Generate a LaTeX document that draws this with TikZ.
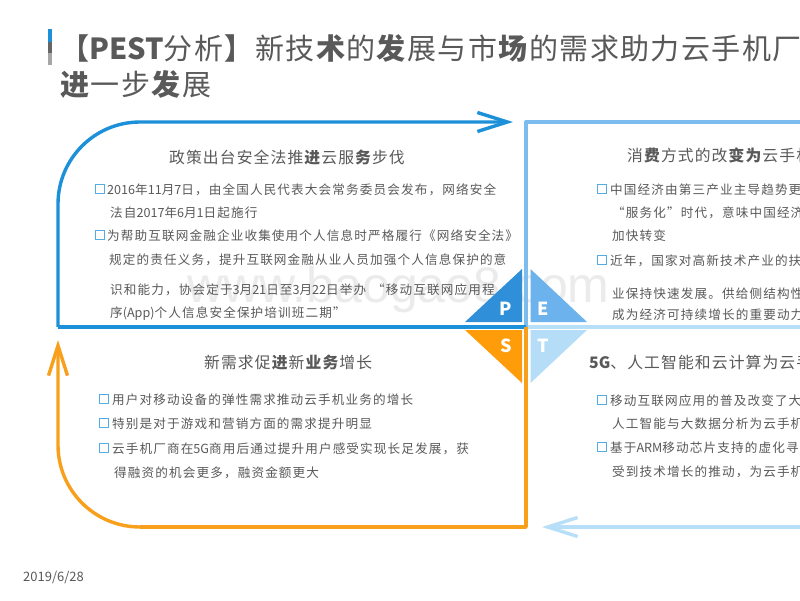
\documentclass[tikz,border=0pt]{standalone}
\usepackage{fontspec}
\setmainfont{Noto Sans CJK SC}[LetterSpace=5]
\newfontfamily\nl{Noto Sans CJK SC}
\newfontfamily\wmfont{Liberation Sans}
\usetikzlibrary{arrows.meta}
\definecolor{cP}{HTML}{1C90D8}
\definecolor{cE}{HTML}{7CBCEE}
\definecolor{cS}{HTML}{F8A01C}
\definecolor{cT}{HTML}{B8DFF8}
\definecolor{tP}{HTML}{2F8FD8}
\definecolor{tE}{HTML}{6CB2EC}
\definecolor{tS}{HTML}{FF9C0A}
\definecolor{tT}{HTML}{B5DDF7}
\definecolor{txt}{HTML}{595959}
\newcommand{\bd}[1]{\textbf{#1}}
\newcommand{\lt}[1]{{\nl #1}}
\newcommand{\fc}{\symbol{"FF0C}}
\tikzset{
  body/.style={anchor=base west,inner sep=0pt,text=txt,font=\fontsize{12.6}{14}\selectfont\addfontfeature{LetterSpace=9}},
  head/.style={anchor=base west,inner sep=0pt,text=txt,font=\fontsize{15.8}{18}\selectfont\addfontfeature{LetterSpace=7}},
  ttl/.style={anchor=base west,inner sep=0pt,text=txt,font=\fontsize{29}{32}\selectfont},
  bullet/.style={draw=cP!75,line width=1pt,fill=white,minimum size=9.5pt,inner sep=0pt},
  letter/.style={text=white,inner sep=0pt,font=\nl\fontsize{18}{18}\selectfont\bfseries},
  rule/.style={line width=3.4pt,line join=round},
  barb/.style={-{Straight Barb[length=30pt,width=19pt,line width=3.4pt]}},
}
\begin{document}
\begin{tikzpicture}[x=1pt,y=-1pt]
\useasboundingbox (0,0) rectangle (800,600);
\fill[white] (0,0) rectangle (800,600);
\clip (0,0) rectangle (800,600);
% watermark
\node[anchor=base west,inner sep=0pt,text=black!8,font=\wmfont\fontsize{50}{54}\selectfont] (wm) at (187,302) {www.baogao8.com};
% title bar
\fill[cP] (48,29) rectangle (51.5,42);
\fill[black!60] (48,42) rectangle (51.5,53);
\fill[black!35] (48,53) rectangle (51.5,65);
\node[ttl] (t1) at (60,59) {\bd{【\lt{\bfseries PEST}}分析\bd{】}新技\bd{术}的\bd{发}展与市\bd{场}的需求助力云手机厂};
\node[ttl] (t2) at (60,95) {\bd{进}一步\bd{发}展};
% frame coordinates
\coordinate (cc) at (526,327);
\coordinate (ptip) at (513,122);
\coordinate (pleft) at (58,327);
\coordinate (etr) at (802,122);
\coordinate (etl) at (526,122);
\coordinate (ebr) at (802,327);
\coordinate (sbr) at (526,527);
\coordinate (stip) at (58,340);
\coordinate (tstart) at (802,527);
\coordinate (ttip) at (542,527);
% frames
\draw[rule,cT] (ebr) -- (cc);
\draw[rule,cE] (etr) -- (etl) -- (cc);
\draw[rule,cP] (cc) -- (pleft);
\draw[rule,cP,barb] (pleft) -- (58,204) arc[start angle=180,end angle=90,radius=82pt] -- (ptip);
\draw[rule,cS] (cc) -- (sbr) -- (140,527);
\draw[rule,cS,barb] (140,527) arc[start angle=270,end angle=180,radius=82pt] -- (stip);
\draw[rule,cT,barb] (tstart) -- (ttip);
% triangles
\fill[tP] (465,322) -- (522,269) -- (522,322) -- cycle;
\fill[tE] (530.5,269) -- (530.5,322) -- (587,322) -- cycle;
\fill[tS] (465,330) -- (522,330) -- (522,383) -- cycle;
\fill[tT] (530.5,330) -- (587,330) -- (530.5,383) -- cycle;
\node[letter] (lP) at (506,309) {P};
\node[letter] (lE) at (543,309) {E};
\node[letter] (lS) at (506,346) {S};
\node[letter] (lT) at (543,346) {T};
% P
\node[head] (hP) at (169,163) {政策出台安全法推\bd{进}云服\bd{务}步伐};
\node[bullet] (bP1) at (100,189) {};
\node[body] (p1) at (107,194) {\lt{2016}年\lt{11}月\lt{7}日\fc 由全国人民代表大会常务委员会发布\fc 网络安全};
\node[body] (p2) at (110,217) {法自\lt{2017}年\lt{6}月\lt{1}日起施行};
\node[bullet] (bP2) at (100,235) {};
\node[body] (p3) at (107,240) {为帮助互联网金融企业收集使用个人信息时严格履行《网络安全法》};
\node[body] (p4) at (109,264) {规定的责任义务\fc 提升互联网金融从业人员加强个人信息保护的意};
\node[body] (p5) at (110,294) {识和能力\fc 协会定于\lt{3}月\lt{21}日至\lt{3}月\lt{22}日举办\hspace{6pt}“移动互联网应用程};
\node[body] (p6) at (110,317) {序\lt{(App)}个人信息安全保护培训班二期”};
% E
\node[head] (hE) at (627,161) {消\bd{费}方式的改\bd{变为}云手机};
\node[bullet] (bE1) at (602,189) {};
\node[body] (e1) at (610,194) {中国经济由第三产业主导趋势更};
\node[body] (e2) at (612,217) {“服务化”时代\fc 意味中国经济};
\node[body] (e3) at (612,240) {加快转变};
\node[bullet] (bE2) at (602,260) {};
\node[body] (e4) at (610,265) {近年\fc 国家对高新技术产业的扶};
\node[body] (e5) at (612,298) {业保持快速发展。供给侧结构性};
\node[body] (e6) at (612,319) {成为经济可持续增长的重要动力};
% S
\node[head] (hS) at (204,368) {新需求促\bd{进}新\bd{业务}增长};
\node[bullet] (bS1) at (104,399) {};
\node[body] (s1) at (112,404) {用户对移动设备的弹性需求推动云手机业务的增长};
\node[bullet] (bS2) at (104,423) {};
\node[body] (s2) at (112,428) {特别是对于游戏和营销方面的需求提升明显};
\node[bullet] (bS3) at (104,448) {};
\node[body] (s3) at (112,453) {云手机厂商在\lt{5G}商用后通过提升用户感受实现长足发展\fc 获};
\node[body] (s4) at (114,477) {得融资的机会更多\fc 融资金额更大};
% T
\node[head] (hT) at (589,368) {\lt{\bfseries 5G}、人工智能和云计算为云手};
\node[bullet] (bT1) at (602,400) {};
\node[body] (t3) at (610,405) {移动互联网应用的普及改变了大};
\node[body] (t4) at (612,428) {人工智能与大数据分析为云手机};
\node[bullet] (bT2) at (602,447) {};
\node[body] (t5) at (610,452) {基于\lt{ARM}移动芯片支持的虚化寻};
\node[body] (t6) at (612,476) {受到技术增长的推动\fc 为云手机};
% date
\node[anchor=base west,inner sep=0pt,text=txt,font=\nl\fontsize{13}{14}\selectfont] (date) at (23,581) {2019/6/28};
\end{tikzpicture}
\end{document}
